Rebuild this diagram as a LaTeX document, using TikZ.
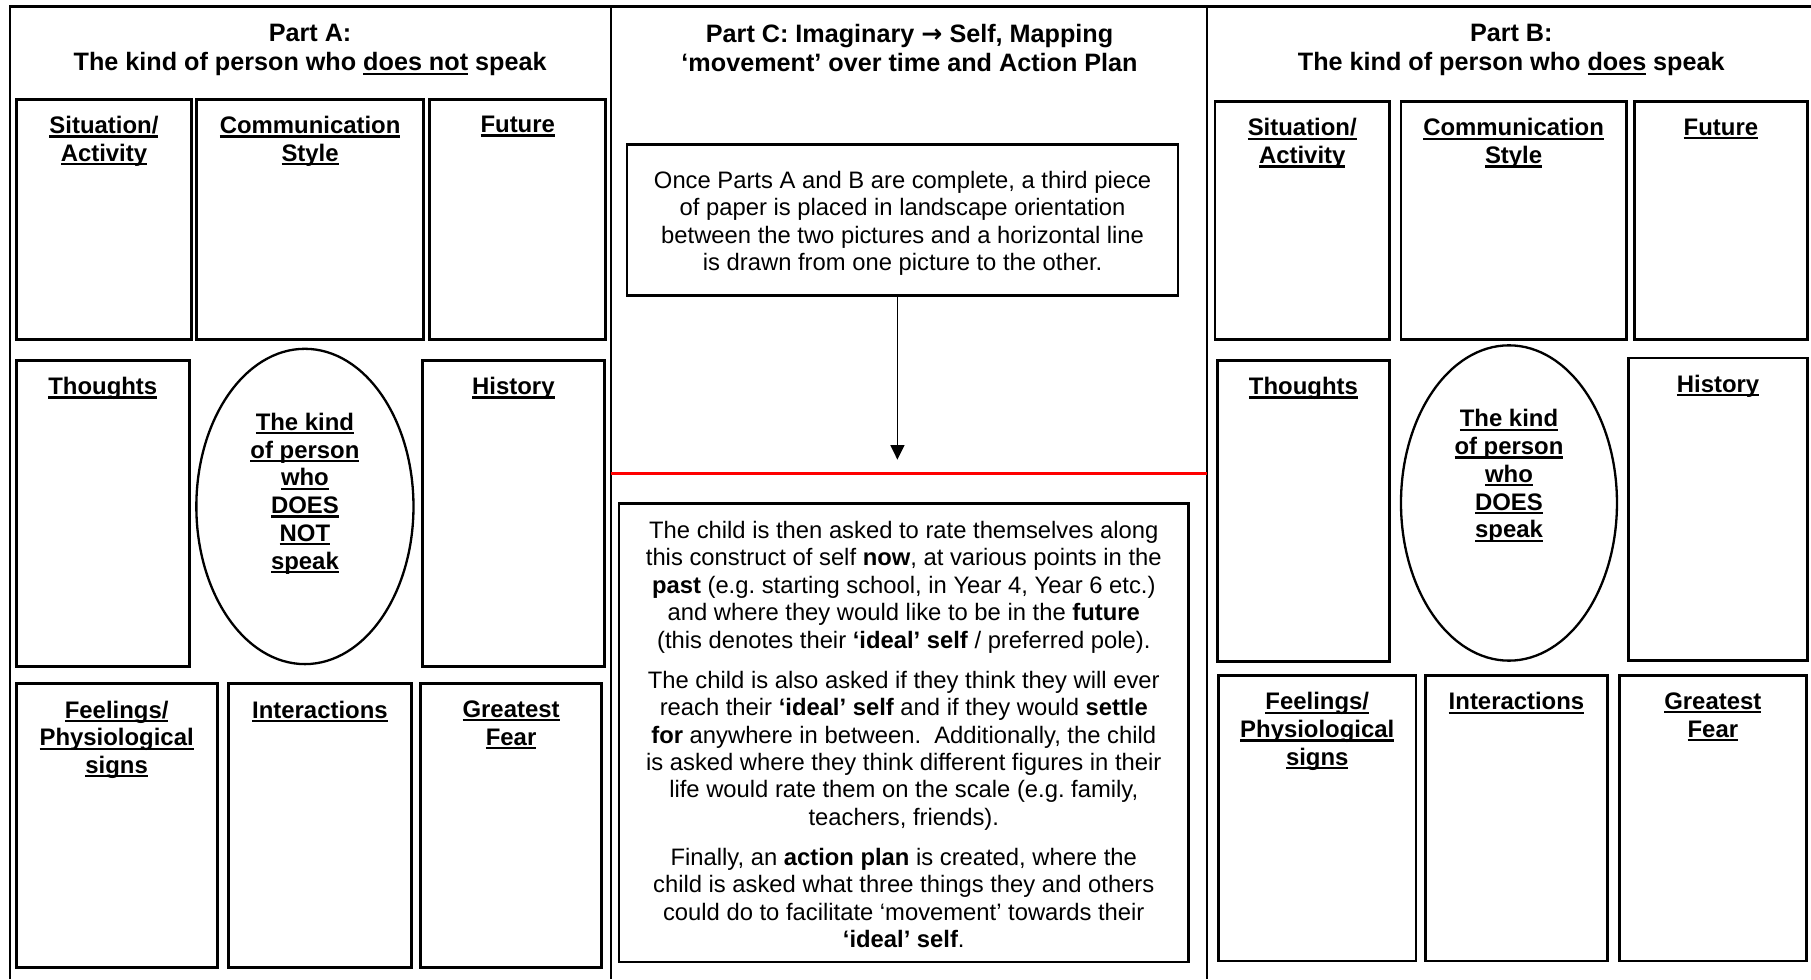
\documentclass[tikz,border=0pt]{standalone}
\usepackage{fontspec}
\setmainfont{Liberation Sans}
\newfontfamily\arrowfont{DejaVu Sans}
\usetikzlibrary{arrows.meta,shapes.geometric}
\frenchspacing
% heavy underline sitting just under the baseline
\newcommand\hul[1]{\setbox0=\hbox{#1}\rlap{\rule[-3.4pt]{\wd0}{1.9pt}}\box0\relax}
% bold arrow used in the Part C heading
\newcommand\headarrow{{\arrowfont\bfseries →}}
% a framed cell with its underlined heading at the top
\newcommand\gridcell[6]{%
  \node[cell, minimum width={(#4-#2)*1pt}, minimum height={(#5-#3)*1pt}] (#1) at (#2,#3) {};
  \node[hd] (#1-h) at ([yshift=-14.5pt]#1.north) {#6};}
\begin{document}
\begin{tikzpicture}[x=1pt,y=-1pt,
  frame/.style={line width=2.2pt},
  cell/.style={draw, rectangle, line width=2.5pt, inner sep=0pt, outer sep=0pt, anchor=north west},
  oval/.style={draw, ellipse, line width=2pt, inner sep=0pt, outer sep=0pt},
  notebox/.style={draw, rectangle, line width=2.2pt, inner sep=0pt, outer sep=0pt, anchor=north west},
  hd/.style={font=\fontsize{20.7}{24}\selectfont\bfseries, align=center, anchor=north, inner sep=0pt},
  ttl/.style={font=\fontsize{21.8}{25.2}\selectfont\bfseries, align=center, anchor=north, inner sep=0pt},
  body/.style={font=\fontsize{20.6}{23.75}\selectfont, align=center, anchor=north, inner sep=0pt},
]
\useasboundingbox (0,0) rectangle (1568,848);

% page frame and column dividers
\draw[frame] (8.5,848) -- (8.5,5.5) -- (1568,5.5);
\draw[frame] (529,5.5) -- (529,848);
\draw[frame] (1045,5.5) -- (1045,848);

% column titles
\node[ttl] (tA) at (268.5,21) {Part A:\\The kind of person who \hul{does not} speak};
\node[ttl] (tC) at (787.5,21) {Part C: Imaginary \headarrow{} Self, Mapping\\‘movement’ over time and Action Plan};
\node[ttl] (tB) at (1308.5,21) {Part B:\\The kind of person who \hul{does} speak};

% ---- Part A ----
\gridcell{sitA}{14}{86}{166}{294}{\hul{Situation/}\\\hul{Activity}}
\gridcell{comA}{170}{86}{367}{294}{\hul{Communication}\\\hul{Style}}
\gridcell{futA}{372}{86}{524.5}{294}{\hul{Future}}
\gridcell{thoA}{14}{312}{164}{577}{\hul{Thoughts}}
\gridcell{hisA}{366}{312}{523}{577}{\hul{History}}
\gridcell{feeA}{14}{592}{188}{838}{\hul{Feelings/}\\\hul{Physiological}\\\hul{signs}}
\gridcell{intA}{198}{592}{356}{838}{\hul{Interactions}}
\gridcell{greA}{364}{592}{521}{838}{\hul{Greatest}\\\hul{Fear}}
\node[oval, minimum width=188pt, minimum height=273pt] (ellA) at (264,438.5) {};
\node[hd] (ellA-h) at ([yshift=-55.5pt]ellA.north) {\hul{The kind}\\\hul{of person}\\\hul{who}\\\hul{DOES}\\\hul{NOT}\\\hul{speak}};

% ---- Part B ----
\gridcell{sitB}{1052}{88}{1203}{294}{\hul{Situation/}\\\hul{Activity}}
\gridcell{comB}{1213}{88}{1408}{294}{\hul{Communication}\\\hul{Style}}
\gridcell{futB}{1415}{88}{1565}{294}{\hul{Future}}
\gridcell{thoB}{1054}{312}{1203}{573}{\hul{Thoughts}}
\gridcell{hisB}{1410}{310}{1565}{572}{\hul{History}}
\gridcell{feeB}{1055}{585}{1226}{832}{\hul{Feelings/}\\\hul{Physiological}\\\hul{signs}}
\gridcell{intB}{1234}{585}{1392}{832}{\hul{Interactions}}
\gridcell{greB}{1402}{585}{1564}{832}{\hul{Greatest}\\\hul{Fear}}
\node[oval, minimum width=187pt, minimum height=273pt] (ellB) at (1306.5,435.5) {};
\node[hd] (ellB-h) at ([yshift=-55.5pt]ellB.north) {\hul{The kind}\\\hul{of person}\\\hul{who}\\\hul{DOES}\\\hul{speak}};

% ---- Part C ----
\node[notebox, minimum width=477pt, minimum height=131pt] (box1) at (543,125) {};
\node[body] (box1-t) at ([yshift=-23pt]box1.north) {Once Parts A and B are complete, a third piece\\of paper is placed in landscape orientation\\between the two pictures and a horizontal line\\is drawn from one picture to the other.};

\draw[red, line width=3pt] (529,410) -- (1045,410);
\coordinate (tip) at (777,398);
\draw[line width=1.2pt, -{Triangle[width=12pt,length=12.5pt]}] (box1.south -| tip) -- (tip);

\node[notebox, minimum width=493pt, minimum height=397pt] (box2) at (536,436) {};
\node[body] (box2-t) at ([yshift=-15pt]box2.north) {The child is then asked to rate themselves along\\
this construct of self \textbf{now}, at various points in the\\
\textbf{past} (e.g. starting school, in Year 4, Year 6 etc.)\\
and where they would like to be in the \textbf{future}\\
(this denotes their \textbf{‘ideal’ self} / preferred pole).\\[11pt]
The child is also asked if they think they will ever\\
reach their \textbf{‘ideal’ self} and if they would \textbf{settle}\\
\textbf{for} anywhere in between.\ \ Additionally, the child\\
is asked where they think different figures in their\\
life would rate them on the scale (e.g. family,\\
teachers, friends).\\[11pt]
Finally, an \textbf{action plan} is created, where the\\
child is asked what three things they and others\\
could do to facilitate ‘movement’ towards their\\
\textbf{‘ideal’ self}.};
\end{tikzpicture}
\end{document}
